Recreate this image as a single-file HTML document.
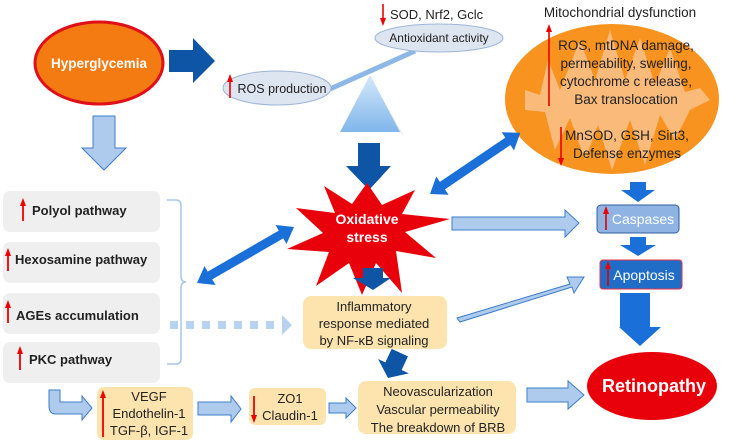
<!DOCTYPE html>
<html><head><meta charset="utf-8"><style>
body{margin:0;background:#fff}
svg{display:block;font-family:"Liberation Sans",sans-serif}
.t{font-size:13px;fill:#222;text-anchor:middle}
.b{font-weight:bold}
</style></head><body>
<svg width="746" height="443" viewBox="0 0 746 443" xmlns="http://www.w3.org/2000/svg">
<defs>
<linearGradient id="tri" x1="0" y1="0" x2="0" y2="1"><stop offset="0" stop-color="#d6e9fb"/><stop offset="1" stop-color="#7fb6ea"/></linearGradient>
<marker id="ra" markerUnits="userSpaceOnUse" markerWidth="8" markerHeight="8" refX="4" refY="4" orient="auto"><path d="M0,1 L8,4 L0,7 z" fill="#e00"/></marker>
</defs>
<!-- Hyperglycemia -->
<ellipse cx="99" cy="63" rx="64" ry="41" fill="#f47a12" stroke="#e0101a" stroke-width="3"/>
<text x="99" y="68" class="t b" style="fill:#fff;font-size:13.5px">Hyperglycemia</text>
<polygon points="169,50 193,50 193,38 215,61 193,83 193,72 169,72" fill="#0f55a6"/>
<line x1="330" y1="89" x2="415" y2="51" stroke="#8db8e6" stroke-width="5"/>
<ellipse cx="277" cy="88" rx="54" ry="17" fill="#dde5f0" stroke="#9cb5d8"/>
<line x1="230" y1="98" x2="230" y2="78" stroke="#e00" stroke-width="1.6" marker-end="url(#ra)"/>
<text x="282" y="93" class="t" style="font-size:12.5px">ROS production</text>
<ellipse cx="439" cy="38" rx="64" ry="14" fill="#dde5f0" stroke="#9cb5d8"/>
<text x="439" y="42" class="t" style="font-size:12px">Antioxidant activity</text>
<line x1="383" y1="4" x2="383" y2="22" stroke="#e00" stroke-width="1.6" marker-end="url(#ra)"/>
<text x="390" y="19" style="font-size:13px;fill:#222">SOD, Nrf2, Gclc</text>
<polygon points="370,75 340,132 400,132" fill="url(#tri)"/>
<polygon points="370,75 400,132 404,136 372,80" fill="#c9c9c9" opacity=".4"/>
<polygon points="358,143 380,143 380,166 391,166 369,190 346,166 358,166" fill="#0f55a6"/>
<!-- star -->
<polygon points="367,183 382,205 415,190 402,214 450,219 405,232 436,258 396,251 402,293 376,263 362,295 349,263 316,286 329,252 287,249 323,233 296,208 335,213 324,186 352,204" fill="#e8000b"/>
<text x="367" y="224" class="t b" style="fill:#fff;font-size:14px">Oxidative</text>
<text x="367" y="242" class="t b" style="fill:#fff;font-size:14px">stress</text>
<!-- Mitochondria -->
<ellipse cx="612" cy="99" rx="107" ry="75" fill="#f7931e"/>
<path d="M525,90 L540,95 L548,60 L560,90 L580,40 L595,80 L610,30 L625,80 L640,38 L655,85 L670,48 L685,92 L700,88 L710,100 L690,110 L675,140 L660,115 L645,165 L630,120 L612,170 L598,125 L585,160 L570,118 L555,150 L545,112 L525,110 Z" fill="#fbc79a" opacity=".75"/>
<text x="620" y="17" class="t" style="font-size:13.5px">Mitochondrial dysfunction</text>
<line x1="549" y1="106" x2="549" y2="28" stroke="#e00" stroke-width="1.6" marker-end="url(#ra)"/>
<line x1="561" y1="127" x2="561" y2="162" stroke="#e00" stroke-width="1.6" marker-end="url(#ra)"/>
<text x="626" y="50" class="t" style="font-size:13.5px">ROS, mtDNA damage,</text>
<text x="626" y="68" class="t" style="font-size:13.5px">permeability, swelling,</text>
<text x="626" y="86" class="t" style="font-size:13.5px">cytochrome c release,</text>
<text x="626" y="104" class="t" style="font-size:13.5px">Bax translocation</text>
<text x="627" y="140" class="t" style="font-size:13.5px">MnSOD, GSH, Sirt3,</text>
<text x="627" y="158" class="t" style="font-size:13.5px">Defense enzymes</text>
<!-- double arrows -->
<g fill="#1a6fd8">
<polygon transform="translate(430,194) rotate(-34.1)" points="0,0 15,-11 15,-4.5 94,-4.5 94,-11 109,0 94,11 94,4.5 15,4.5 15,11"/>
<polygon transform="translate(197,283) rotate(-30)" points="0,0 15,-11 15,-4.5 97,-4.5 97,-11 112,0 97,11 97,4.5 15,4.5 15,11"/>
</g>
<polygon points="630,182 646,182 646,190 655,190 638,202 621,190 630,190" fill="#1a6fd8"/>
<rect x="597" y="205" width="82" height="28" rx="4" fill="#8fb4e3" stroke="#2e5fa0"/>
<line x1="606" y1="230" x2="606" y2="210" stroke="#d00" stroke-width="1.6" marker-end="url(#ra)"/>
<text x="643" y="224" class="t" style="fill:#fff;font-size:14px">Caspases</text>
<polygon points="630,237 646,237 646,245 656,245 638,256 620,245 630,245" fill="#1a6fd8"/>
<rect x="600" y="260" width="82" height="29" rx="3" fill="#1f6dc6" stroke="#e8304a"/>
<line x1="608" y1="286" x2="608" y2="265" stroke="#d00" stroke-width="1.6" marker-end="url(#ra)"/>
<text x="644" y="280" class="t" style="fill:#fff;font-size:14px">Apoptosis</text>
<polygon points="620,293 650,293 650,327 661,327 640,346 619,327 620,327" fill="#1a6fd8"/>
<ellipse cx="652" cy="386" rx="65" ry="34" fill="#e8000b"/>
<text x="654" y="392" class="t b" style="fill:#fff;font-size:18px">Retinopathy</text>
<!-- light arrows -->
<g fill="#aecbee" stroke="#3d7cc9" stroke-width="1">
<polygon points="452,217 565,217 565,210 579,223 565,237 565,230 452,230"/>
<polygon points="457,318 570,284 567,277 584,277 574,293 572,287 460,322"/>
<polygon points="527,388 568,388 568,381 584,395 568,409 568,402 527,402"/>
<polygon points="93,116 115,116 115,148 126,148 104,170 82,148 93,148"/>
<polygon points="198,402 231,402 231,396 241,409 231,422 231,415 198,415"/>
<polygon points="329,403 346,403 346,398 356,408 346,418 346,413 329,413"/>
<path d="M49,390 L60,390 L60,402 L82,402 L82,396 L92,408 L82,420 L82,414 L56,414 Q49,414 49,406 Z"/>
</g>
<g fill="#b7d1f0">
<rect x="170" y="321" width="8" height="8"/><rect x="186" y="321" width="8" height="8"/><rect x="202" y="321" width="8" height="8"/><rect x="218" y="321" width="8" height="8"/><rect x="234" y="321" width="8" height="8"/><rect x="250" y="321" width="8" height="8"/><rect x="266" y="321" width="8" height="8"/>
<polygon points="282,315 292,325 282,335"/>
</g>
<g fill="#efefef">
<rect x="3" y="191" width="157" height="41" rx="7"/>
<rect x="3" y="242" width="157" height="41" rx="7"/>
<rect x="3" y="293" width="157" height="41" rx="7"/>
<rect x="3" y="342" width="157" height="41" rx="7"/>
</g>
<g stroke="#e00" stroke-width="1.8">
<line x1="23" y1="221" x2="23" y2="202" marker-end="url(#ra)"/>
<line x1="8" y1="271" x2="8" y2="252" marker-end="url(#ra)"/>
<line x1="8" y1="323" x2="8" y2="304" marker-end="url(#ra)"/>
<line x1="20" y1="370" x2="20" y2="350" marker-end="url(#ra)"/>
</g>
<g class="b" style="font-size:13px;fill:#222">
<text x="32" y="215">Polyol pathway</text>
<text x="15" y="264">Hexosamine pathway</text>
<text x="16" y="320">AGEs accumulation</text>
<text x="29" y="364">PKC pathway</text>
</g>
<path d="M167,200 L176,200 Q181,200 181,206 L181,276 Q181,282 186,282 Q181,282 181,288 L181,358 Q181,364 176,364 L167,364" fill="none" stroke="#a9c5e8" stroke-width="1.5"/>
<polygon points="363,268 383,268 383,278 391,278 373,290 353,278 363,278" fill="#0f55a6"/>
<rect x="303" y="296" width="144" height="53" rx="8" fill="#fde4ae"/>
<text x="374" y="311" class="t">Inflammatory</text>
<text x="374" y="328" class="t">response mediated</text>
<text x="374" y="345" class="t">by NF-κB signaling</text>
<polygon transform="translate(388,378) rotate(25)" points="-9,-28 9,-28 9,-13 17,-13 0,0 -17,-13 -9,-13" fill="#0f55a6"/>
<rect x="358" y="381" width="158" height="53" rx="8" fill="#fde4ae"/>
<text x="438" y="396" class="t">Neovascularization</text>
<text x="438" y="414" class="t">Vascular permeability</text>
<text x="438" y="432" class="t">The breakdown of BRB</text>
<rect x="97" y="387" width="96" height="53" rx="7" fill="#fde4ae"/>
<line x1="103" y1="437" x2="103" y2="394" stroke="#e00" stroke-width="1.8" marker-end="url(#ra)"/>
<text x="149" y="401" class="t">VEGF</text>
<text x="149" y="418" class="t">Endothelin-1</text>
<text x="149" y="435" class="t">TGF-β, IGF-1</text>
<rect x="249" y="388" width="77" height="37" rx="6" fill="#fde4ae"/>
<line x1="254" y1="396" x2="254" y2="419" stroke="#e00" stroke-width="1.8" marker-end="url(#ra)"/>
<text x="290" y="403" class="t">ZO1</text>
<text x="290" y="420" class="t">Claudin-1</text>
</svg>
</body></html>
